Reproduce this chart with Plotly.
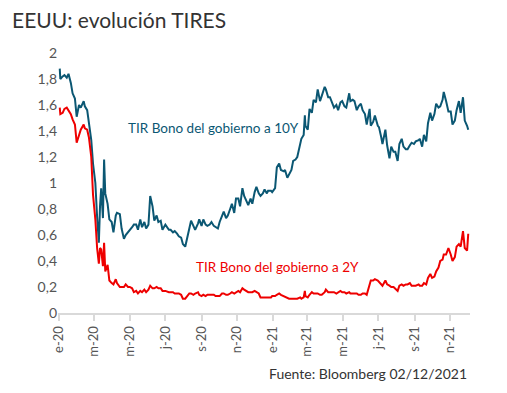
import plotly.graph_objects as go

dates = [
 "2020-01-02","2020-01-03","2020-01-07","2020-01-10","2020-01-14","2020-01-17","2020-01-21","2020-01-24","2020-01-28","2020-01-31",
 "2020-02-04","2020-02-07","2020-02-12","2020-02-14","2020-02-18","2020-02-21","2020-02-25","2020-02-28",
 "2020-03-03","2020-03-06","2020-03-09","2020-03-11","2020-03-13","2020-03-16","2020-03-18","2020-03-20","2020-03-24","2020-03-27","2020-03-31",
 "2020-04-03","2020-04-07","2020-04-09","2020-04-14","2020-04-17","2020-04-21","2020-04-24","2020-04-28",
 "2020-05-01","2020-05-05","2020-05-08","2020-05-12","2020-05-15","2020-05-19","2020-05-22","2020-05-26","2020-05-29",
 "2020-06-02","2020-06-05","2020-06-09","2020-06-12","2020-06-16","2020-06-19","2020-06-23","2020-06-26",
 "2020-07-01","2020-07-07","2020-07-10","2020-07-14","2020-07-17","2020-07-21","2020-07-24","2020-07-28","2020-07-31",
 "2020-08-04","2020-08-07","2020-08-11","2020-08-14","2020-08-18","2020-08-21","2020-08-26","2020-08-28",
 "2020-09-01","2020-09-04","2020-09-08","2020-09-11","2020-09-15","2020-09-18","2020-09-22","2020-09-25","2020-09-29",
 "2020-10-02","2020-10-06","2020-10-09","2020-10-13","2020-10-16","2020-10-20","2020-10-23","2020-10-27","2020-10-30",
 "2020-11-03","2020-11-06","2020-11-10","2020-11-13","2020-11-17","2020-11-20","2020-11-24","2020-11-27",
 "2020-12-01","2020-12-04","2020-12-08","2020-12-11","2020-12-15","2020-12-18","2020-12-22","2020-12-24","2020-12-29","2020-12-31",
 "2021-01-05","2021-01-08","2021-01-12","2021-01-15","2021-01-20","2021-01-22","2021-01-26","2021-01-29",
 "2021-02-02","2021-02-05","2021-02-09","2021-02-12","2021-02-17","2021-02-19","2021-02-23","2021-02-25","2021-02-26",
 "2021-03-02","2021-03-05","2021-03-09","2021-03-12","2021-03-16","2021-03-19","2021-03-23","2021-03-26","2021-03-31",
 "2021-04-02","2021-04-06","2021-04-09","2021-04-13","2021-04-16","2021-04-20","2021-04-23","2021-04-27","2021-04-30",
 "2021-05-04","2021-05-07","2021-05-12","2021-05-14","2021-05-18","2021-05-21","2021-05-25","2021-05-28",
 "2021-06-01","2021-06-04","2021-06-08","2021-06-11","2021-06-16","2021-06-18","2021-06-22","2021-06-25","2021-06-30",
 "2021-07-02","2021-07-06","2021-07-08","2021-07-13","2021-07-16","2021-07-20","2021-07-23","2021-07-27","2021-07-30",
 "2021-08-03","2021-08-06","2021-08-10","2021-08-13","2021-08-17","2021-08-20","2021-08-24","2021-08-27","2021-08-31",
 "2021-09-03","2021-09-08","2021-09-10","2021-09-14","2021-09-17","2021-09-21","2021-09-24","2021-09-28",
 "2021-10-01","2021-10-05","2021-10-08","2021-10-12","2021-10-15","2021-10-19","2021-10-21","2021-10-25","2021-10-29",
 "2021-11-02","2021-11-05","2021-11-09","2021-11-12","2021-11-16","2021-11-19","2021-11-23","2021-11-26","2021-11-30","2021-12-02",
]

tir_10y = [
 1.88,1.80,1.82,1.83,1.81,1.84,1.77,1.69,1.65,1.51,
 1.60,1.58,1.63,1.59,1.56,1.47,1.33,1.15,
 1.00,0.74,0.54,0.82,0.96,0.73,1.18,0.92,0.84,0.72,0.70,
 0.62,0.75,0.77,0.76,0.65,0.57,0.60,0.62,
 0.64,0.66,0.68,0.68,0.64,0.72,0.66,0.70,0.65,
 0.68,0.90,0.82,0.71,0.75,0.70,0.71,0.64,
 0.68,0.64,0.64,0.62,0.63,0.61,0.59,0.58,0.53,
 0.51,0.57,0.64,0.71,0.67,0.64,0.69,0.72,
 0.67,0.72,0.68,0.67,0.68,0.70,0.67,0.66,0.65,
 0.70,0.75,0.78,0.73,0.75,0.80,0.84,0.77,0.88,
 0.88,0.82,0.96,0.90,0.86,0.83,0.88,0.84,
 0.93,0.97,0.92,0.90,0.92,0.95,0.92,0.94,0.94,0.93,
 0.96,1.12,1.15,1.10,1.09,1.10,1.04,1.07,
 1.10,1.17,1.18,1.20,1.29,1.34,1.37,1.52,1.44,
 1.41,1.57,1.54,1.64,1.62,1.72,1.63,1.67,1.74,
 1.72,1.66,1.66,1.62,1.58,1.60,1.56,1.62,1.63,
 1.59,1.58,1.69,1.63,1.64,1.63,1.56,1.59,
 1.61,1.56,1.53,1.45,1.57,1.44,1.47,1.52,1.44,
 1.43,1.35,1.30,1.41,1.29,1.19,1.28,1.24,1.24,
 1.17,1.30,1.34,1.28,1.26,1.26,1.29,1.31,1.30,
 1.32,1.33,1.34,1.28,1.37,1.32,1.46,1.54,
 1.48,1.53,1.61,1.58,1.59,1.64,1.70,1.63,1.55,
 1.55,1.45,1.48,1.56,1.63,1.54,1.66,1.48,1.44,1.41,
]

tir_2y = [
 1.58,1.53,1.54,1.57,1.58,1.56,1.53,1.49,1.45,1.31,
 1.38,1.41,1.45,1.42,1.41,1.35,1.20,0.91,
 0.72,0.50,0.38,0.50,0.49,0.36,0.54,0.32,0.37,0.25,0.23,
 0.22,0.26,0.23,0.20,0.20,0.20,0.22,0.20,
 0.20,0.19,0.16,0.17,0.15,0.17,0.16,0.18,0.16,
 0.18,0.21,0.19,0.19,0.20,0.19,0.19,0.17,
 0.17,0.16,0.16,0.16,0.15,0.15,0.15,0.14,0.11,
 0.11,0.13,0.15,0.15,0.14,0.15,0.16,0.14,
 0.13,0.14,0.13,0.14,0.14,0.14,0.14,0.13,0.13,
 0.13,0.15,0.15,0.14,0.14,0.15,0.16,0.15,0.16,
 0.17,0.16,0.19,0.18,0.17,0.16,0.16,0.16,
 0.17,0.16,0.15,0.12,0.12,0.12,0.12,0.12,0.12,0.13,
 0.13,0.14,0.15,0.14,0.13,0.13,0.12,0.11,
 0.11,0.11,0.11,0.11,0.12,0.11,0.12,0.17,0.13,
 0.12,0.14,0.16,0.15,0.15,0.15,0.14,0.14,0.16,
 0.18,0.16,0.16,0.16,0.16,0.15,0.16,0.17,0.16,
 0.16,0.15,0.16,0.15,0.15,0.15,0.15,0.14,
 0.14,0.15,0.15,0.14,0.21,0.25,0.25,0.26,0.25,
 0.24,0.22,0.21,0.25,0.22,0.21,0.20,0.20,0.19,
 0.17,0.21,0.22,0.21,0.22,0.22,0.23,0.21,0.21,
 0.21,0.22,0.21,0.21,0.23,0.22,0.27,0.30,
 0.27,0.28,0.32,0.35,0.40,0.41,0.45,0.45,0.50,
 0.45,0.40,0.43,0.51,0.53,0.51,0.63,0.50,0.48,0.61,
]

tick_dates = ["2020-01-01","2020-03-01","2020-05-01","2020-07-01","2020-09-01","2020-11-01",
              "2021-01-01","2021-03-01","2021-05-01","2021-07-01","2021-09-01","2021-11-01"]
tick_labels = ["e-20","m-20","m-20","j-20","s-20","n-20","e-21","m-21","m-21","j-21","s-21","n-21"]

y_vals = [0,0.2,0.4,0.6,0.8,1,1.2,1.4,1.6,1.8,2]
y_labels = ["0","0,2","0,4","0,6","0,8","1","1,2","1,4","1,6","1,8","2"]

BLUE = "#0b5773"
RED = "#ee0000"
FONT = "Lato"

# page offset (body margin) of 8 px
OFF = 8
L, T, B_Y = 58 - OFF, 53 - OFF, 313 - OFF
PW, PH = 412, 260

fig = go.Figure()
fig.add_trace(go.Scatter(x=dates, y=tir_10y, mode="lines", line=dict(color=BLUE, width=2),
                         name="TIR Bono del gobierno a 10Y", showlegend=False))
fig.add_trace(go.Scatter(x=dates, y=tir_2y, mode="lines", line=dict(color=RED, width=2),
                         name="TIR Bono del gobierno a 2Y", showlegend=False))

fig.update_layout(
    width=507, height=393,
    margin=dict(l=L, r=507 - L - PW, t=T, b=393 - B_Y),
    paper_bgcolor="white", plot_bgcolor="white",
    font=dict(family=FONT, color="#555555", size=13),
    title=dict(text="EEUU: evolución TIRES", x=(12 - OFF)/507, xref="container", xanchor="left",
               y=1-(21 - OFF)/393, yref="container", yanchor="middle",
               font=dict(family=FONT, size=21, color="#333333")),
    xaxis=dict(type="date", range=["2019-12-30", "2021-12-05"],
               tickvals=tick_dates, ticktext=tick_labels, tickangle=-90,
               showgrid=False, zeroline=False,
               showline=True, linecolor="#d9d9d9", linewidth=2,
               ticks="outside", tickcolor="#d9d9d9", ticklen=6, tickwidth=2,
               tickfont=dict(size=13, color="#555555")),
    yaxis=dict(range=[0, 2], tickvals=y_vals, ticktext=y_labels,
               showgrid=False, zeroline=False, showline=False, ticks="",
               tickfont=dict(size=14, color="#555555")),
    annotations=[
        dict(text="TIR Bono del gobierno a 10Y", xref="paper", yref="paper",
             x=(126-58)/PW, y=(313-128)/PH, xanchor="left", yanchor="middle",
             showarrow=False, font=dict(family=FONT, size=13.5, color=BLUE)),
        dict(text="TIR Bono del gobierno a 2Y", xref="paper", yref="paper",
             x=(194-58)/PW, y=(313-267)/PH, xanchor="left", yanchor="middle",
             showarrow=False, font=dict(family=FONT, size=13.5, color=RED)),
        dict(text="Fuente: Bloomberg 02/12/2021", xref="paper", yref="paper",
             x=(469-58)/PW, y=(313-373)/PH, xanchor="right", yanchor="middle",
             showarrow=False, font=dict(family=FONT, size=14, color="#333333")),
    ],
)

fig.write_html("out.html")
